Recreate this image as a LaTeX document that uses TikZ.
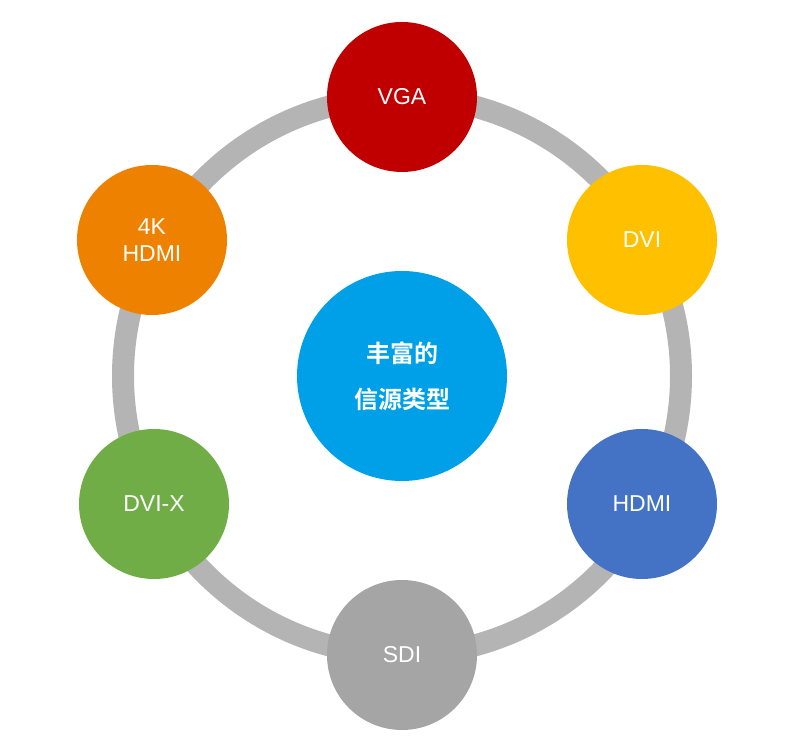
\documentclass[tikz,border=0pt]{standalone}
\usepackage{fontspec}
\setmainfont{Liberation Sans}
\newfontfamily\cjk{Noto Sans CJK SC}[BoldFont={* Bold}]
\begin{document}
\begin{tikzpicture}[x=1pt,y=1pt,
  sat/.style={circle,minimum size=150pt,inner sep=0pt,text=white,font=\fontsize{23}{27}\selectfont,align=center}]
\useasboundingbox (0,0) rectangle (803,746);
\fill[white] (0,0) rectangle (803,746);
\draw[line width=22pt,color={rgb,255:red,180;green,180;blue,180}] (402,370) circle (279);
\node[sat,fill={rgb,255:red,0;green,160;blue,233},minimum size=210pt,font=\cjk\bfseries\fontsize{24}{46}\selectfont] (c) at (402,370) {丰富的\\信源类型};
\node[sat,fill={rgb,255:red,192;green,0;blue,0}] (vga) at (402,649) {VGA};
\node[sat,fill={rgb,255:red,255;green,192;blue,0}] (dvi) at (642,506) {DVI};
\node[sat,fill={rgb,255:red,68;green,114;blue,196}] (hdmi) at (642,242) {HDMI};
\node[sat,fill={rgb,255:red,165;green,165;blue,165}] (sdi) at (402,91) {SDI};
\node[sat,fill={rgb,255:red,112;green,173;blue,71}] (dvix) at (154,242) {DVI-X};
\node[sat,fill={rgb,255:red,238;green,130;blue,0}] (k4) at (152,506) {4K\\HDMI};
\end{tikzpicture}
\end{document}
